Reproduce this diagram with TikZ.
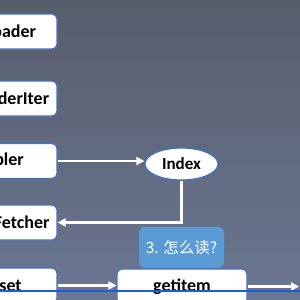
\documentclass[tikz,border=0pt]{standalone}
\usepackage{fontspec}
\setmainfont{Carlito}
\newfontfamily\cjk{Noto Sans CJK SC}
\usetikzlibrary{arrows.meta,positioning,shapes.geometric}
\definecolor{bgtop}{HTML}{565D6B}
\definecolor{bgmid}{HTML}{67718A}
\definecolor{bgbot}{HTML}{6B7792}
\definecolor{edge}{HTML}{4472C4}
\definecolor{callout}{HTML}{5B9BD5}
\definecolor{rulecol}{HTML}{1E5BE0}

\begin{document}
\begin{tikzpicture}[x=1pt, y=-1pt,
    box/.style={draw=edge, line width=1.2pt, fill=white, rounded corners=5pt,
        minimum width=128pt, minimum height=35pt, inner sep=0pt,
        font=\fontsize{18}{20}\selectfont\bfseries},
    ell/.style={ellipse, draw=edge, line width=1.2pt, fill=white,
        minimum width=73pt, minimum height=32pt, inner sep=0pt,
        font=\fontsize{17}{19}\selectfont\bfseries},
    tag/.style={fill=callout, rounded corners=6pt, text=white,
        minimum width=85pt, minimum height=41pt, inner sep=0pt,
        font=\cjk\fontsize{15.5}{17}\selectfont},
    arr/.style={draw=white, line width=2.5pt, -{Triangle[length=8pt,width=8pt]}}]
    \useasboundingbox (0,0) rectangle (300,300);
    \clip (0,0) rectangle (300,300);
    \shade[top color=bgtop, middle color=bgmid, bottom color=bgbot] (0,0) rectangle (300,300);
    \node[box] (loader) at (-7,31.5) {DataLoader};
    \node[box] (iter) at (-7,98.5) {DataLoaderIter};
    \node[box] (sampler) at (-7,161) {Sampler};
    \node[box] (fetcher) at (-7,222.5) {DatasetFetcher};
    \node[box] (dataset) at (-7,285.5) {Dataset};
    \node[ell] (index) at (181.5,164) {Index};
    \node[tag] (how) at (181.5,247.5) {3. 怎么读?};
    \node[box, minimum width=130pt] (getitem) at (182,286.5) {getitem};
    \coordinate (out) at (299,286.5);
    \draw[arr] (sampler.east) -- (sampler.east -| index.west);
    \draw[arr] (index.south) |- (fetcher.east);
    \draw[arr] (dataset.east) -- (dataset.east -| getitem.west);
    \draw[arr] (getitem.east) -- (out);
    \draw[rulecol, line width=1.5pt] (0,291) -- (300,291);
\end{tikzpicture}
\end{document}
